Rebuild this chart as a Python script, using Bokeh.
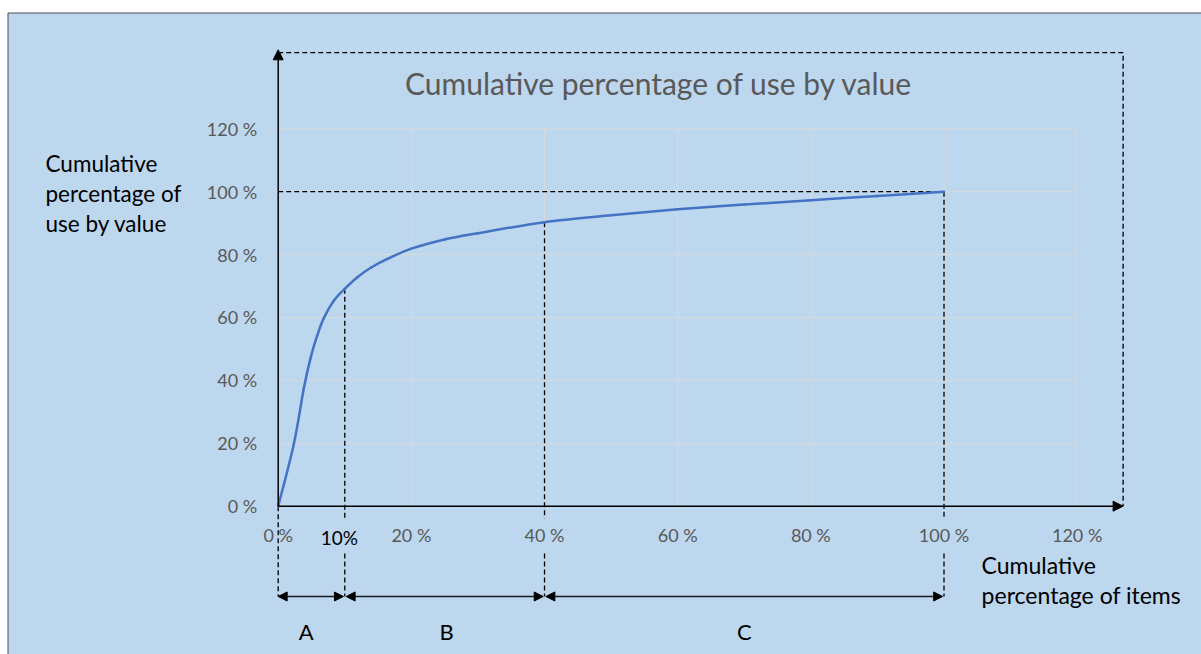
from bokeh.plotting import figure
from bokeh.models import (Range1d, LinearAxis, FixedTicker, PrintfTickFormatter,
                          Arrow, NormalHead)
from bokeh.core.properties import value
from bokeh.embed import file_html
from bokeh.resources import INLINE

# Cumulative share of items (%) against cumulative share of use by value (%)
items_pct = [0, 2.35, 3.85, 4.85, 5.85, 6.85, 8.35, 10, 11.9, 13.9,
             16.4, 19.9, 25, 30, 40, 50, 60, 70, 80, 90, 100]
value_pct = [0, 19.8, 37.5, 47.0, 54.2, 59.8, 65.3, 69.1, 72.8, 75.8,
             78.6, 81.8, 84.8, 86.8, 90.3, 92.5, 94.4, 95.9, 97.3, 98.6, 100]

tick_values = [0, 20, 40, 60, 80, 100, 120]

# ABC classes: boundaries on the items axis and their names
class_bounds = [0, 10, 40, 100]
class_names = ["A", "B", "C"]
class_label_x = [4.2, 25.3, 70.0]

title_text = "Cumulative percentage of use by value"
y_title_lines = ["Cumulative", "percentage of", "use by value"]
y_title_y = [109.1, 99.4, 89.8]
x_title_lines = ["Cumulative", "percentage of items"]
x_title_y = [-18.6, -28.1]

# canvas geometry: origin position in pixels and pixels per percentage point
W, H = 1201, 654
X0_PX, Y0_PX = 277.7, 505.7
X_SCALE, Y_SCALE = 6.658, 3.1454


def dx(px):
    return (px - X0_PX) / X_SCALE


def dy(px):
    return (Y0_PX - px) / Y_SCALE


def smooth_segments(xs, ys):
    """Cubic Bezier pieces of a Catmull-Rom curve through the points."""
    n = len(xs)
    out = {k: [] for k in ("x0", "y0", "x1", "y1", "cx0", "cy0", "cx1", "cy1")}
    for i in range(n - 1):
        i0, i3 = max(i - 1, 0), min(i + 2, n - 1)
        out["x0"].append(xs[i])
        out["y0"].append(ys[i])
        out["x1"].append(xs[i + 1])
        out["y1"].append(ys[i + 1])
        out["cx0"].append(xs[i] + (xs[i + 1] - xs[i0]) / 6)
        out["cy0"].append(ys[i] + (ys[i + 1] - ys[i0]) / 6)
        out["cx1"].append(xs[i + 1] - (xs[i3] - xs[i]) / 6)
        out["cy1"].append(ys[i + 1] - (ys[i3] - ys[i]) / 6)
    return out


x_range = Range1d(dx(0), dx(W))
y_range = Range1d(dy(H), dy(0))

p = figure(width=W, height=H, x_range=x_range, y_range=y_range,
           output_backend="svg", toolbar_location=None,
           x_axis_location=None, y_axis_location=None,
           min_border=0, outline_line_color=None,
           background_fill_color="white", border_fill_color="white")
for g in p.grid:
    g.visible = False

# light blue panel with a thin dark border
p.quad(left=[dx(7.5)], right=[dx(W + 30)], top=[dy(12.5)], bottom=[dy(H + 30)],
       fill_color="#BDD7EE", line_color="#4d4d4d", line_width=1, level="image")

# gridlines over the plotted area
grid_ticks = tick_values[1:]
grid_max = tick_values[-1]
p.segment(x0=grid_ticks, x1=grid_ticks, y0=0, y1=grid_max,
          line_color="#D9D9D9", line_width=1, level="underlay")
p.segment(x0=0, x1=grid_max, y0=grid_ticks, y1=grid_ticks,
          line_color="#D9D9D9", line_width=1, level="underlay")

# axes: labels only, lines are drawn as arrows
tick_style = dict(axis_line_color=None, major_tick_line_color=None,
                  minor_tick_line_color=None, major_tick_out=0, major_tick_in=0,
                  major_label_text_color="#595959",
                  major_label_text_font="Lato",
                  major_label_text_font_size="18px")
xaxis = LinearAxis(fixed_location=0, ticker=FixedTicker(ticks=tick_values),
                   formatter=PrintfTickFormatter(format="%d %%"),
                   major_label_standoff=18, **tick_style)
yaxis = LinearAxis(fixed_location=0, ticker=FixedTicker(ticks=tick_values),
                   formatter=PrintfTickFormatter(format="%d %%"),
                   major_label_standoff=21, **tick_style)
p.add_layout(xaxis, "below")
p.add_layout(yaxis, "left")

x_axis_end = 126.9
y_axis_end = 145.1
frame_top = 144.2
row_y = -28.7
gap_top, gap_bottom = -3.9, -15.0

dash = dict(line_color="black", line_width=1.3, line_dash="5 3")

# dashed outline box from the axes
p.line([0, x_axis_end, x_axis_end], [frame_top, frame_top, 0], **dash)

# 100 % reference line
p.line([0, 100], [100, 100], **dash)

# class boundaries dropped from the curve to the class arrows
curve_at = {b: value_pct[items_pct.index(b)] for b in class_bounds}
p.line([0, 0], [0, row_y], **dash)
for b in class_bounds[1:]:
    p.line([b, b], [curve_at[b], gap_top], **dash)
    p.line([b, b], [gap_bottom, row_y], **dash)

# smoothed curve
p.bezier(line_color="#4472C4", line_width=2.5, line_cap="round",
         **smooth_segments(items_pct, value_pct))

# axis arrows
for xe, ye in [(x_axis_end, 0), (0, y_axis_end)]:
    p.add_layout(Arrow(end=NormalHead(size=10, fill_color="black", line_color="black"),
                       x_start=0, y_start=0, x_end=xe, y_end=ye,
                       line_color="black", line_width=1.5))

# double-headed class arrows
gap = 0.2
for a, b in zip(class_bounds[:-1], class_bounds[1:]):
    s = a + (gap if a > 0 else 0)
    p.add_layout(Arrow(start=NormalHead(size=9, fill_color="black", line_color="black"),
                       end=NormalHead(size=9, fill_color="black", line_color="black"),
                       x_start=s, y_start=row_y, x_end=b - gap, y_end=row_y,
                       line_color="#1a1a1a", line_width=1.5))

font = value("Lato")
p.text(x=[57.2], y=[134.4], text=[title_text], text_font=font,
       text_font_size="30px", text_color="#595959",
       text_align="center", text_baseline="middle")
p.text(x=[dx(45)] * len(y_title_lines), y=y_title_y, text=y_title_lines,
       text_font=font, text_font_size="22.5px", text_color="black",
       text_align="left", text_baseline="middle")
p.text(x=[105.65] * len(x_title_lines), y=x_title_y, text=x_title_lines,
       text_font=font, text_font_size="23px", text_color="black",
       text_align="left", text_baseline="middle")
p.text(x=class_label_x, y=[-39.8] * len(class_names), text=class_names,
       text_font=font, text_font_size="22px", text_color="black",
       text_align="center", text_baseline="middle")
p.text(x=[9.2], y=[-10.0], text=["10%"], text_font=font,
       text_font_size="19px", text_color="black",
       text_align="center", text_baseline="middle")

open("out.html", "w").write(file_html(p, INLINE))
